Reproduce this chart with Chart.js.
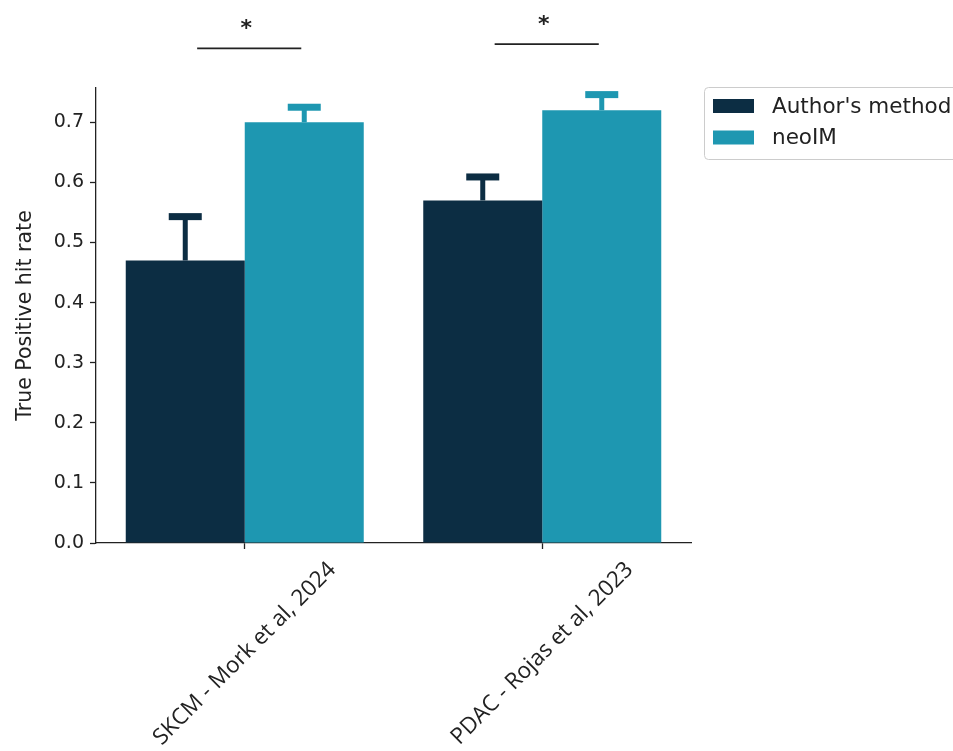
<!DOCTYPE html>
<html>
<head>
<meta charset="utf-8">
<script src="https://cdn.jsdelivr.net/npm/chart.js@4.4.1/dist/chart.umd.min.js"></script>
<style>
  html, body { margin: 0; padding: 0; background: #fff; overflow: hidden; }
  canvas { display: block; }
</style>
</head>
<body>
<canvas id="hitChart" width="953" height="751"></canvas>
<script>
// cohorts and true positive hit rates
const cohorts = ['SKCM - Mork et al, 2024', 'PDAC - Rojas et al, 2023'];
const seriesNames = ["Author's method", 'neoIM'];
const authorRate = [0.47, 0.57];
const neoimRate = [0.70, 0.72];
// upper error (one-sided)
const authorErr = [0.073, 0.039];
const neoimErr = [0.025, 0.026];
const yTicks = [0.0, 0.1, 0.2, 0.3, 0.4, 0.5, 0.6, 0.7];
// significance brackets: level in data units, span in category units around each cohort
const sigLevel = [0.823, 0.830];
const sigSpan = [-0.16, 0.19];
const sigMark = ['*', '*'];

const DARK = '#0c2d43';
const TEAL = '#1e97b1';
const INK = '#222222';

const overlays = {
    id: 'overlays',
    afterDatasetsDraw(chart) {
        const { ctx } = chart;
        const yScale = chart.scales.y;
        const errs = [authorErr, neoimErr];

        // error bars, same colour as their bar
        chart.data.datasets.forEach((ds, i) => {
            const meta = chart.getDatasetMeta(i);
            ctx.save();
            ctx.fillStyle = ds.backgroundColor;
            meta.data.forEach((bar, j) => {
                const top = yScale.getPixelForValue(ds.data[j] + errs[i][j]);
                ctx.fillRect(bar.x - 2.5, top, 5, bar.y - top);
                ctx.fillRect(bar.x - 16.5, top - 3.5, 33, 7);
            });
            ctx.restore();
        });
    },
    afterDraw(chart) {
        const { ctx, chartArea } = chart;
        const xScale = chart.scales.x;
        const yScale = chart.scales.y;
        const catW = xScale.getPixelForValue(1) - xScale.getPixelForValue(0);

        // significance lines and stars
        ctx.save();
        ctx.strokeStyle = INK;
        ctx.fillStyle = INK;
        ctx.lineWidth = 1.8;
        cohorts.forEach((c, i) => {
            const cx = xScale.getPixelForValue(i);
            const y = yScale.getPixelForValue(sigLevel[i]);
            const x0 = cx + sigSpan[0] * catW;
            const x1 = cx + sigSpan[1] * catW;
            ctx.beginPath();
            ctx.moveTo(x0, y);
            ctx.lineTo(x1, y);
            ctx.stroke();
            ctx.font = 'bold 22px "DejaVu Sans"';
            ctx.textAlign = 'center';
            ctx.textBaseline = 'alphabetic';
            ctx.fillText(sigMark[i], (x0 + x1) / 2 - 3, y - 13);
        });
        ctx.restore();

        // rotated category labels, centred on their ticks
        ctx.save();
        ctx.fillStyle = INK;
        ctx.font = '22.5px "Open Sans"';
        ctx.textAlign = 'center';
        ctx.textBaseline = 'middle';
        cohorts.forEach((c, i) => {
            const w = ctx.measureText(c).width;
            const h = 20;
            const cx = xScale.getPixelForValue(i);
            const cy = chartArea.bottom + 16 + (w + h) * Math.SQRT1_2 / 2;
            ctx.save();
            ctx.translate(cx, cy);
            ctx.rotate(-Math.PI / 4);
            ctx.fillText(c, 0, 0);
            ctx.restore();
        });
        ctx.restore();

        // legend box
        ctx.save();
        const lx = 704;
        const ly = chartArea.top - 1;
        ctx.fillStyle = 'rgba(255,255,255,0.8)';
        ctx.strokeStyle = '#cccccc';
        ctx.lineWidth = 1;
        ctx.beginPath();
        ctx.roundRect(lx + 0.5, ly + 0.5, 300, 72, 4);
        ctx.fill();
        ctx.stroke();
        ctx.font = '21.5px "DejaVu Sans"';
        ctx.textAlign = 'left';
        ctx.textBaseline = 'middle';
        chart.data.datasets.forEach((ds, i) => {
            const cy = ly + 19 + i * 31.5;
            ctx.fillStyle = ds.backgroundColor;
            ctx.fillRect(lx + 9, cy - 7, 41, 14);
            ctx.fillStyle = INK;
            ctx.fillText(ds.label, lx + 68, cy + 1);
        });
        ctx.restore();
    }
};

new Chart(document.getElementById('hitChart'), {
    type: 'bar',
    data: {
        labels: cohorts,
        datasets: [
            { label: seriesNames[0], data: authorRate, backgroundColor: DARK },
            { label: seriesNames[1], data: neoimRate, backgroundColor: TEAL }
        ]
    },
    options: {
        responsive: false,
        animation: false,
        devicePixelRatio: 1,
        categoryPercentage: 0.8,
        barPercentage: 1.0,
        layout: { padding: { top: 88, right: 262, left: 0, bottom: 0 } },
        plugins: {
            legend: { display: false },
            tooltip: { enabled: false }
        },
        scales: {
            x: {
                offset: true,
                grid: { display: true, offset: false, drawOnChartArea: false, drawTicks: true, tickLength: 6, tickColor: INK, tickWidth: 1.3 },
                border: { display: true, color: INK, width: 1.3 },
                ticks: { display: false },
                afterFit: scale => { scale.height = 208; }
            },
            y: {
                min: 0,
                max: 0.757,
                afterBuildTicks: scale => { scale.ticks = yTicks.map(v => ({ value: v })); },
                grid: { display: true, drawOnChartArea: false, drawTicks: true, tickLength: 6, tickColor: INK, tickWidth: 1.3 },
                border: { display: true, color: INK, width: 1.3 },
                ticks: {
                    color: INK,
                    padding: 6,
                    font: { family: 'DejaVu Sans', size: 19 },
                    callback: v => Number(v).toFixed(1)
                },
                title: {
                    display: true,
                    text: 'True Positive hit rate',
                    color: INK,
                    font: { family: 'DejaVu Sans', size: 20.5 },
                    padding: { top: 13, bottom: 0 }
                },
                afterFit: scale => { scale.width = 96; }
            }
        }
    },
    plugins: [overlays]
});
</script>
</body>
</html>
